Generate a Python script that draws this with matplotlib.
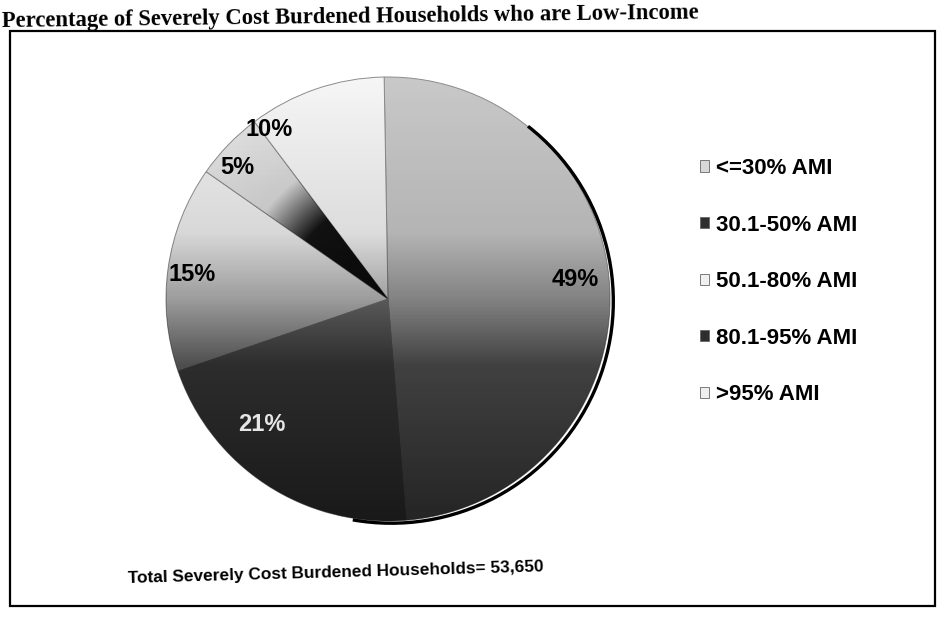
import numpy as np
import matplotlib
matplotlib.use("Agg")
import matplotlib.pyplot as plt
from matplotlib.patches import Circle, Rectangle, Arc, Patch

categories = ["<=30% AMI", "30.1-50% AMI", "50.1-80% AMI", "80.1-95% AMI", ">95% AMI"]
shares = [49, 21, 15, 5, 10]
title = "Percentage of Severely Cost Burdened Households who are Low-Income"
footer = "Total Severely Cost Burdened Households= 53,650"

base_colors = ["#c8c8c8", "#8a8a8a", "#f0f0f0", "#e4e4e4", "#f5f5f5"]
legend_colors = ["#d8d8d8", "#2e2e2e", "#f0f0f0", "#2e2e2e", "#eeeeee"]
label_colors = ["black", "#e6e6e6", "black", "black", "black"]
dark_core = [False, False, False, True, False]
# label placement tweaks (angle shift in degrees, radius fraction)
label_shift = [3, -12, 1, 3, 16]
label_r = [0.85, 0.80, 0.89, 0.90, 0.93]

fig = plt.figure(figsize=(9.39, 6.24), dpi=100)
fig.patch.set_facecolor("white")

cx, cy, rpx, lim = 388, 299, 222, 1.03
half = rpx * lim
ax = fig.add_axes([(cx - half) / 939, (624 - cy - half) / 624, 2 * half / 939, 2 * half / 624])
ax.set_aspect("equal")
wedges, texts, autotexts = ax.pie(
    shares, colors=base_colors, startangle=91, counterclock=False,
    autopct=lambda p: f"{p:.0f}%", pctdistance=0.86, radius=1.0,
    wedgeprops=dict(edgecolor="#8c8c8c", linewidth=0.7),
    textprops=dict(fontsize=17, fontweight="bold",
                   family=["Liberation Sans", "DejaVu Sans"]))
for w, t, c, s, r in zip(wedges, autotexts, label_colors, label_shift, label_r):
    ang = np.deg2rad((w.theta1 + w.theta2) / 2 + s)
    t.set_position((r * np.cos(ang), r * np.sin(ang)))
    t.set_color(c)
    t.set_zorder(10)

# vertical shading imitating the scanned 3D gradient
ys = np.linspace(1, -1, 300)
alpha = np.interp(-ys, [-1, -0.3, 0.0, 0.3, 1.0], [0.0, 0.1, 0.35, 0.68, 0.82])
grad = np.zeros((300, 2, 4))
grad[..., 3] = alpha[:, None]
im = ax.imshow(grad, extent=[-1, 1, -1, 1], zorder=3, aspect="auto",
               interpolation="bilinear")
im.set_clip_path(Circle((0, 0), 1.0, transform=ax.transData))

# dark core near the centre for the thin slice (as in the scan)
gx, gy = np.meshgrid(np.linspace(-1, 1, 300), np.linspace(1, -1, 300))
rr = np.hypot(gx, gy)
core = np.zeros((300, 300, 4))
core[..., 3] = np.interp(rr, [0, 0.45, 0.68, 1.0], [0.95, 0.92, 0.05, 0.0])
for w, d in zip(wedges, dark_core):
    if d:
        cim = ax.imshow(core, extent=[-1, 1, -1, 1], zorder=3.5, aspect="auto",
                        interpolation="bilinear")
        cim.set_clip_path(w)

ax.add_patch(Arc((0.015, -0.01), 2.0, 2.0, theta1=-100, theta2=52,
                 color="black", lw=2.4, zorder=4))
ax.set_xlim(-lim, lim)
ax.set_ylim(-lim, lim)
ax.axis("off")

handles = [Patch(facecolor=c, edgecolor="#666666", linewidth=0.6) for c in legend_colors]
leg = fig.legend(handles, categories, loc="upper left",
                 bbox_to_anchor=(680 / 939, 1 - 138 / 624),
                 frameon=False, handlelength=0.4, handleheight=0.4,
                 handletextpad=0.3, labelspacing=1.6,
                 prop=dict(size=16, weight="bold",
                           family=["Liberation Sans", "DejaVu Sans"]))

fig.text(0.002, 1 - 27 / 624, title, ha="left", va="baseline", rotation=0.7,
         rotation_mode="anchor", fontsize=16.3, fontweight="bold",
         family=["Liberation Serif", "DejaVu Serif"])
fig.text(128 / 939, 1 - 583 / 624, footer, ha="left", va="baseline", rotation=1.6,
         rotation_mode="anchor", fontsize=12.4, fontweight="bold",
         family=["Liberation Sans", "DejaVu Sans"])

fig.patches.append(Rectangle((10 / 939, 1 - 606 / 624), 0.996 - 10 / 939, (606 - 31) / 624,
                             transform=fig.transFigure, fill=False,
                             edgecolor="black", linewidth=1.6))

fig.savefig("out.png", dpi=100, facecolor="white")
